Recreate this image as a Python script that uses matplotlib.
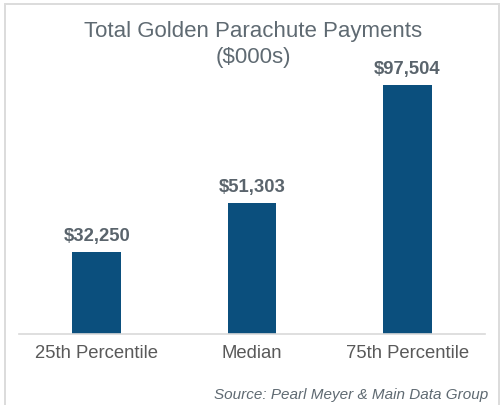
import matplotlib.pyplot as plt
from matplotlib.patches import Rectangle

categories = ['25th Percentile', 'Median', '75th Percentile']
payments = [32250, 51303, 97504]
value_labels = ['$32,250', '$51,303', '$97,504']

plt.rcParams['font.family'] = ['Liberation Sans', 'DejaVu Sans']

W, H = 502, 405
fig = plt.figure(figsize=(W / 100, H / 100), dpi=100)

# light grey frame round the chart
fig.patches.append(Rectangle((5 / W, -0.1), (499 - 5) / W, 1 - 4 / H + 0.1, transform=fig.transFigure,
                             fill=False, edgecolor='#dcdcdc', linewidth=1.4))

ax = fig.add_axes([19 / W, 1 - 334 / H, (485 - 19) / W, (334 - 27.5) / H])
x = range(len(categories))
bars = ax.bar(x, payments, width=0.315, color='#0b4f7d')
ax.set_xlim(-0.5, 2.5)
ax.set_ylim(0, 120000)

for b, lab in zip(bars, value_labels):
    ax.annotate(lab, (b.get_x() + b.get_width() / 2, b.get_height()), xytext=(0, 5),
                textcoords='offset points', ha='center', va='bottom',
                fontsize=13.3, fontweight='bold', color='#5a646c')

for s in ['top', 'right', 'left']:
    ax.spines[s].set_visible(False)
ax.spines['bottom'].set_color('#d9d9d9')
ax.spines['bottom'].set_linewidth(1.2)
ax.set_yticks([])
ax.set_xticks(list(x))
ax.set_xticklabels(categories, fontsize=13.3, color='#595959')
ax.tick_params(axis='x', length=0, pad=8)

fig.text(253 / W, 1 - 32 / H, 'Total Golden Parachute Payments', ha='center', va='center',
         fontsize=16, color='#5f6a72')
fig.text(253 / W, 1 - 58 / H, '($000s)', ha='center', va='center',
         fontsize=16, color='#5f6a72')
fig.text(488 / W, 1 - 395 / H, 'Source: Pearl Meyer & Main Data Group', ha='right', va='center',
         fontsize=11, style='italic', color='#5f6a72')

fig.savefig('out.png', dpi=100)
